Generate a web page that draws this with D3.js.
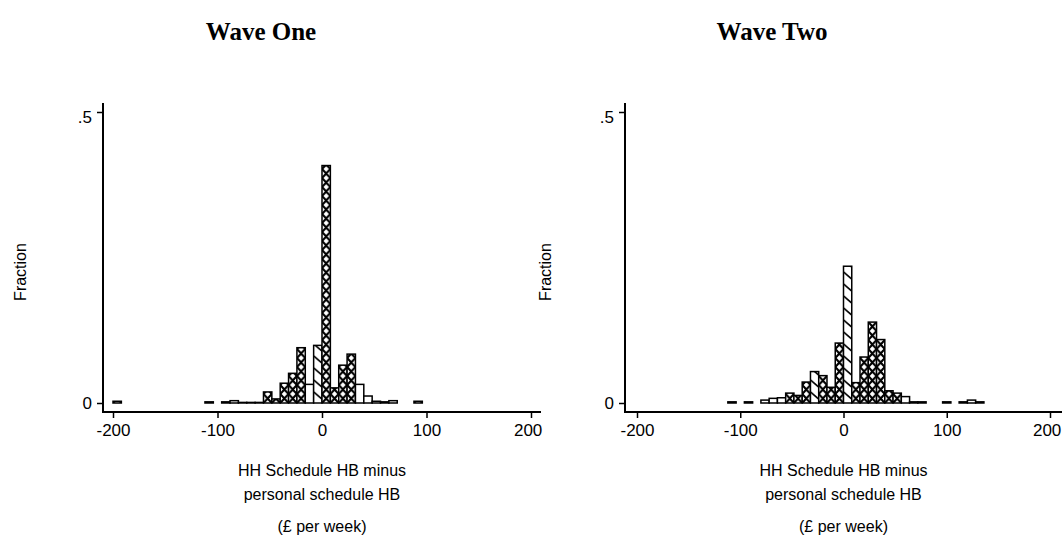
<!DOCTYPE html>
<html lang="en">
<head>
    <meta charset="UTF-8">
    <title>Wave One / Wave Two histograms</title>
    <script src="https://d3js.org/d3.v7.min.js"></script>
    <style>
        body { margin: 0; background: #fff; }
        .title { font-family: "Liberation Serif", "Times New Roman", serif; font-weight: bold; font-size: 25px; }
        .lab { font-family: "Liberation Sans", Arial, sans-serif; font-size: 16px; }
        .tick text { font-family: "Liberation Sans", Arial, sans-serif; font-size: 17px; fill: #000; }
    </style>
</head>
<body>
<svg id="main" width="1062" height="537"></svg>
<script>
    // bin width in £ per week
    let binWidth = 8;

    // Wave One: bin start, fraction, fill style
    let wave1Start = [-200, -112, -96, -88, -80, -72, -64, -56, -48, -40, -32, -24, -16, -8, 0, 8, 16, 24, 32, 40, 48, 56, 64, 88];
    let wave1Frac  = [0.003, 0.002, 0.002, 0.004, 0.001, 0.001, 0.001, 0.019, 0.007, 0.034, 0.051, 0.095, 0.032, 0.099, 0.408, 0.026, 0.065, 0.084, 0.032, 0.012, 0.003, 0.002, 0.004, 0.003];
    let wave1Fill  = ['cross', 'cross', 'none', 'none', 'none', 'none', 'none', 'cross', 'cross', 'cross', 'cross', 'cross', 'none', 'diag', 'cross', 'cross', 'cross', 'cross', 'none', 'none', 'none', 'none', 'none', 'cross'];

    // Wave Two
    let wave2Start = [-112, -96, -80, -72, -64, -56, -48, -40, -32, -24, -16, -8, 0, 8, 16, 24, 32, 40, 48, 56, 64, 72, 96, 112, 120, 128];
    let wave2Frac  = [0.002, 0.002, 0.005, 0.008, 0.009, 0.017, 0.013, 0.036, 0.054, 0.047, 0.027, 0.103, 0.235, 0.035, 0.079, 0.139, 0.109, 0.021, 0.017, 0.011, 0.002, 0.002, 0.002, 0.002, 0.005, 0.002];
    let wave2Fill  = ['cross', 'cross', 'none', 'none', 'none', 'cross', 'cross', 'cross', 'diag', 'cross', 'cross', 'cross', 'diag', 'cross', 'cross', 'cross', 'cross', 'cross', 'cross', 'none', 'none', 'none', 'cross', 'cross', 'none', 'cross'];

    let xTicks = [-200, -100, 0, 100, 200];
    let yTicks = [0, 0.5];

    let svg = d3.select('svg#main');
    let defs = svg.append('defs');

    function drawPanel(id, title, starts, fracs, fills, xRange, axisX, axisEnd, titleX, fracX) {
        let xScale = d3.scaleLinear().domain([-200, 200]).range(xRange);
        let yScale = d3.scaleLinear().domain([0, 0.5]).range([403, 112]);
        let w = xScale(binWidth) - xScale(0);

        // cross hatch pattern
        let pc = defs.append('pattern')
            .attr('id', id + 'cross')
            .attr('patternUnits', 'userSpaceOnUse')
            .attr('x', xScale(0)).attr('y', 403)
            .attr('width', w).attr('height', 9);
        pc.append('rect').attr('width', w).attr('height', 9).attr('fill', 'white');
        pc.append('path')
            .attr('d', 'M-1,-1.1L' + (w + 1) + ',10.1M' + (w + 1) + ',-1.1L-1,10.1')
            .attr('stroke', 'black').attr('stroke-width', 2.2);

        // diagonal hatch pattern
        let pd = defs.append('pattern')
            .attr('id', id + 'diag')
            .attr('patternUnits', 'userSpaceOnUse')
            .attr('x', xScale(0)).attr('y', 403)
            .attr('width', w).attr('height', 12);
        pd.append('rect').attr('width', w).attr('height', 12).attr('fill', 'white');
        pd.append('path')
            .attr('d', 'M0,1L' + w + ',8')
            .attr('stroke', 'black').attr('stroke-width', 1.7);

        let data = starts.map(function (s, i) { return {start: s, frac: fracs[i], fill: fills[i]}; });

        let g = svg.append('g');
        g.selectAll('rect')
            .data(data)
            .enter()
            .append('rect')
            .attr('x', function (d) { return xScale(d.start); })
            .attr('width', w)
            .attr('y', function (d) { return yScale(d.frac); })
            .attr('height', function (d) { return yScale(0) - yScale(d.frac); })
            .attr('fill', function (d) { return d.fill == 'none' ? 'white' : 'url(#' + id + d.fill + ')'; })
            .attr('stroke', 'black')
            .attr('stroke-width', 1.5);

        // y axis
        let yAxis = d3.axisLeft(yScale).tickValues(yTicks).tickSize(6).tickPadding(5)
            .tickFormat(function (d) { return d == 0 ? '0' : '.5'; });
        let ya = svg.append('g').attr('transform', 'translate(' + axisX + ',0)').call(yAxis);
        ya.select('.domain').remove();
        ya.selectAll('.tick line').attr('stroke-width', 1.5);
        ya.selectAll('.tick text').attr('dy', function (d) { return d == 0 ? '0.35em' : '0.6em'; });
        svg.append('line').attr('x1', axisX).attr('x2', axisX).attr('y1', 103).attr('y2', 413)
            .attr('stroke', 'black').attr('stroke-width', 2);

        // x axis
        let xAxis = d3.axisBottom(xScale).tickValues(xTicks).tickSize(6).tickPadding(6)
            .tickFormat(function (d) { return String(d); });
        let xa = svg.append('g').attr('transform', 'translate(0,412)').call(xAxis);
        xa.select('.domain').remove();
        xa.selectAll('.tick line').attr('stroke-width', 1.5);
        xa.selectAll('.tick text').attr('dx', function (d) { return d == 200 ? '-0.2em' : 0; });
        svg.append('line').attr('x1', axisX).attr('x2', axisEnd).attr('y1', 412).attr('y2', 412)
            .attr('stroke', 'black').attr('stroke-width', 2);

        // labels
        svg.append('text').attr('class', 'title').attr('x', titleX).attr('y', 40)
            .attr('text-anchor', 'middle').text(title);
        svg.append('text').attr('class', 'lab')
            .attr('transform', 'translate(' + fracX + ',272) rotate(-90)')
            .attr('text-anchor', 'middle').text('Fraction');
        let cx = xScale(0);
        svg.append('text').attr('class', 'lab').attr('x', cx).attr('y', 476)
            .attr('text-anchor', 'middle').text('HH Schedule HB minus');
        svg.append('text').attr('class', 'lab').attr('x', cx).attr('y', 500)
            .attr('text-anchor', 'middle').text('personal schedule HB');
        svg.append('text').attr('class', 'lab').attr('x', cx).attr('y', 532)
            .attr('text-anchor', 'middle').text('(£ per week)');
    }

    drawPanel('w1', 'Wave One', wave1Start, wave1Frac, wave1Fill, [113, 531], 103, 541, 261, 26);
    drawPanel('w2', 'Wave Two', wave2Start, wave2Frac, wave2Fill, [637, 1050], 625, 1062, 772, 551);
</script>
</body>
</html>
